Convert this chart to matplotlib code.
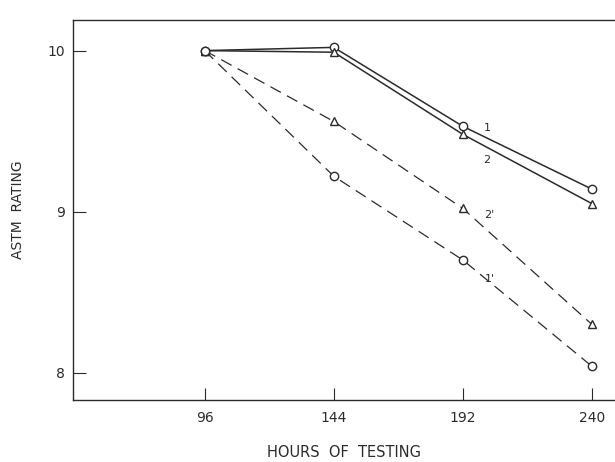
import matplotlib
matplotlib.use("Agg")
import matplotlib.pyplot as plt

# hours of testing
hours = [96, 144, 192, 240]

# ASTM rating
rating_1 = [10.0, 10.02, 9.53, 9.14]    # solid, circles
rating_2 = [10.0, 9.99, 9.48, 9.05]     # solid, triangles
rating_2p = [10.0, 9.56, 9.02, 8.30]    # dashed, triangles
rating_1p = [10.0, 9.22, 8.70, 8.04]    # dashed, circles

x_ticks = [96, 144, 192, 240]
x_tick_labels = ["96", "144", "192", "240"]
y_ticks = [8, 9, 10]
y_tick_labels = ["8", "9", "10"]

ink = "#2b2b2b"
plt.rcParams['font.family'] = ['DejaVu Sans']

fig = plt.figure(figsize=(6.15, 4.62), dpi=100)
ax = fig.add_axes([0.1187, 0.134, 0.8813, 0.8227])

mk = dict(markersize=6, markerfacecolor="white", markeredgecolor=ink, markeredgewidth=1.0)
ax.plot(hours, rating_1, "-", color=ink, lw=1.1, marker="o", **mk)
ax.plot(hours, rating_2, "-", color=ink, lw=1.1, marker="^", **mk)
ax.plot(hours, rating_2p, "--", color=ink, lw=0.9, dashes=(9.5, 5.5), marker="^", **mk)
ax.plot(hours, rating_1p, "--", color=ink, lw=0.9, dashes=(9.5, 5.5), marker="o", **mk)

# curve labels
ax.text(201, 9.52, "1", fontsize=8, color=ink, ha="center", va="center")
ax.text(201, 9.32, "2", fontsize=8, color=ink, ha="center", va="center")
ax.text(202, 8.98, "2'", fontsize=8, color=ink, ha="center", va="center")
ax.text(202, 8.58, "1'", fontsize=8, color=ink, ha="center", va="center")

ax.set_xlim(47, 248.6)
ax.set_ylim(7.83, 10.19)
ax.set_xticks(x_ticks)
ax.set_xticklabels(x_tick_labels)
ax.set_yticks(y_ticks)
ax.set_yticklabels(y_tick_labels)
ax.tick_params(direction="in", length=9, width=0.8, colors=ink, labelsize=10, pad=8)
ax.tick_params(axis="y", pad=6)

ax.spines["right"].set_visible(False)
for s in ["left", "top", "bottom"]:
    ax.spines[s].set_color(ink)
    ax.spines[s].set_linewidth(1.0)

ax.set_xlabel("HOURS  OF  TESTING", fontsize=10.5, color=ink, labelpad=14)
ax.set_ylabel("ASTM  RATING", fontsize=10, color=ink, labelpad=16)

fig.savefig("out.png", dpi=100)
